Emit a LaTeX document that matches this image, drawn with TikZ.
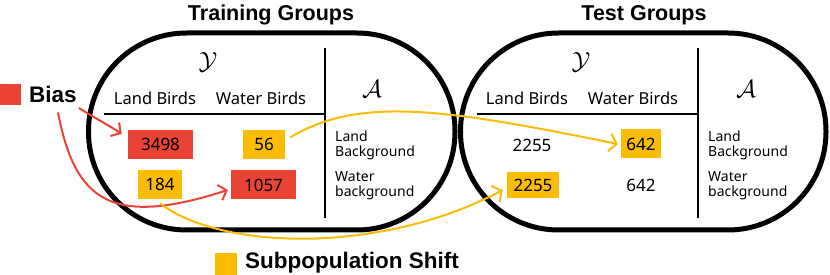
\documentclass[tikz,border=0pt]{standalone}
\usepackage{fontspec}
\setmainfont{Noto Sans}
\newfontfamily\titlefont{Liberation Sans}
\usetikzlibrary{arrows.meta}
\definecolor{bred}{HTML}{EA4335}
\definecolor{byel}{HTML}{FBBC05}
\tikzset{
  stadium/.style={line width=5pt, rounded corners=98pt},
  rule/.style={line width=1.4pt},
  title/.style={font=\titlefont\bfseries\fontsize{21.5}{24}\selectfont, inner sep=0pt},
  legend/.style={font=\titlefont\bfseries\fontsize{22.5}{24}\selectfont, inner sep=0pt, anchor=west},
  head/.style={font=\fontsize{16.5}{20}\selectfont, inner sep=0pt},
  num/.style={font=\fontsize{17}{20}\selectfont, inner sep=0pt},
  bg/.style={font=\fontsize{14}{17}\selectfont, inner sep=0pt, align=left, anchor=west},
  cal/.style={font=\fontsize{28}{30}\selectfont, inner sep=0pt},
  redbox/.style={num, fill=bred, minimum height=29pt},
  yelbox/.style={num, fill=byel, minimum height=29pt},
  redarr/.style={draw=bred, line width=2pt, -{Straight Barb[length=7pt,width=16pt,line width=2pt]}},
  yelarr/.style={draw=byel, line width=2pt, -{Straight Barb[length=7pt,width=18pt,line width=2pt]}},
}
\begin{document}
\begin{tikzpicture}[x=1pt,y=-1pt]
\useasboundingbox (0,0) rectangle (830,275);
% titles
\node[title] (ttrain) at (271,15) {Training Groups};
\node[title] (ttest) at (644,15) {Test Groups};
% legend
\node[fill=bred, minimum size=21pt, inner sep=0pt] (biassq) at (10.5,94.5) {};
\node[legend] (bias) at (29,94) {Bias};
\node[fill=byel, minimum size=22pt, inner sep=0pt] (subsq) at (225.5,264) {};
\node[legend] (sub) at (245,263) {Subpopulation Shift};
% training table
\node[cal] (ytr) at (208,62) {$\mathcal{Y}$};
\node[cal] (atr) at (372,89) {$\mathcal{A}$};
\node[head] (lbtr) at (155,98) {Land Birds};
\node[head] (wbtr) at (261,98) {Water Birds};
\coordinate (hl1) at (104,114);
\coordinate (hr1) at (325,114);
\coordinate (vt1) at (325,48);
\coordinate (vb1) at (325,218);
\node[redbox, minimum width=65pt] (b3498) at (160.5,144.5) {3498};
\node[yelbox, minimum width=42pt] (b56) at (264,144.5) {56};
\node[yelbox, minimum width=44pt] (b184) at (160,184.5) {184};
\node[redbox, minimum width=65pt] (b1057) at (263.5,185) {1057};
\node[bg] (lbg1) at (335,145.5) {Land\\[-2pt]Background};
\node[bg] (wbg1) at (335,185.5) {Water\\[-2pt]background};
% test table
\node[cal] (yte) at (581,62) {$\mathcal{Y}$};
\node[cal] (ate) at (746,89) {$\mathcal{A}$};
\node[head] (lbte) at (527,98) {Land Birds};
\node[head] (wbte) at (633,98) {Water Birds};
\coordinate (hl2) at (477,114);
\coordinate (hr2) at (698,114);
\coordinate (vt2) at (698,48);
\coordinate (vb2) at (698,218);
\node[num] (t2255a) at (532,145) {2255};
\node[yelbox, minimum width=40pt] (t642a) at (641,144) {642};
\node[yelbox, minimum width=52pt, minimum height=26pt] (t2255b) at (533,185) {2255};
\node[num] (t642b) at (641,185) {642};
\node[bg] (lbg2) at (708,145.5) {Land\\[-2pt]Background};
\node[bg] (wbg2) at (708,185.5) {Water\\[-2pt]background};
% rules
\draw[rule] (hl1) -- (hr1);
\draw[rule] (vt1) -- (vb1);
\draw[rule] (hl2) -- (hr2);
\draw[rule] (vt2) -- (vb2);
% stadiums
\draw[stadium] (88.5,33) rectangle (455,230);
\draw[stadium] (460.5,33) rectangle (826,230);
% arrows
\draw[redarr] ([xshift=2pt,yshift=-14pt]bias.east) .. controls (95,118) and (108,125) .. ([xshift=-6pt,yshift=-4pt]b3498.north west);
\draw[redarr] ([xshift=5pt,yshift=-10pt]bias.south) .. controls (75,200) and (110,228) .. ([xshift=-3pt,yshift=-5pt]b1057.west);
\draw[yelarr] ([xshift=5pt,yshift=7pt]b56.east) .. controls (360,95) and (450,110) .. ([xshift=-3pt]t642a.west);
\draw[yelarr] ([yshift=-4pt]b184.south) .. controls (220,250) and (380,255) .. ([xshift=-4pt,yshift=-5pt]t2255b.west);
\end{tikzpicture}
\end{document}
